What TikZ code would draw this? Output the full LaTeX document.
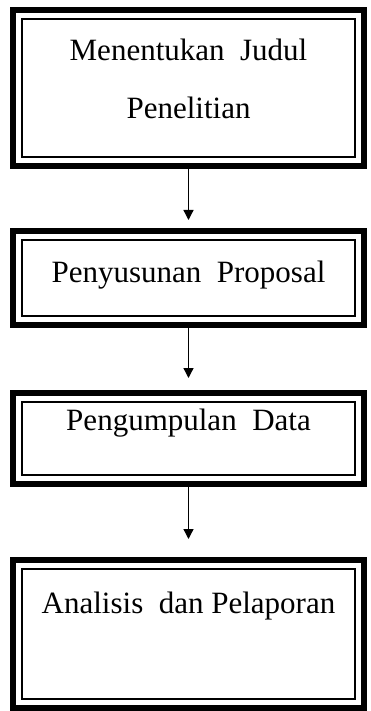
\documentclass[tikz,border=0pt]{standalone}
\usepackage{fontspec}
\setmainfont{Liberation Serif}
\usetikzlibrary{arrows.meta}

\begin{document}
\begin{tikzpicture}[x=1pt, y=1pt,
    stepbox/.style={rectangle, draw, line width=6pt, inner sep=0pt, outer sep=0pt,
        minimum width=351pt, font=\fontsize{31}{37}\selectfont, text height=20pt},
    arr/.style={line width=1.3pt, -{Triangle[length=10pt, width=10pt]}}]
    \useasboundingbox (0,0) rectangle (371,-711);
    \node[stepbox, minimum height=156pt, align=center, text height=62pt, text depth=0pt] (b1) at (188.5,-88) {Menentukan\ \ Judul\\[21pt]Penelitian};
    \node[stepbox, minimum height=94pt, text depth=12pt] (b2) at (188.5,-278) {Penyusunan\ \ Proposal};
    \node[stepbox, minimum height=91pt, text depth=37pt] (b3) at (188.5,-438.5) {Pengumpulan\ \ Data};
    \node[stepbox, minimum height=148pt, text depth=62pt] (b4) at (188.5,-634) {Analisis\ \ dan Pelaporan};
    % inner frame lines
    \foreach \b in {b1,b2,b3,b4} {
        \draw[line width=1.8pt] ([shift={(9,-9)}]\b.north west) rectangle ([shift={(-9,9)}]\b.south east);
    }
    \draw[arr, shorten >=11pt] (b1.south) -- (b2.north);
    \draw[arr, shorten >=15pt] (b2.south) -- (b3.north);
    \draw[arr, shorten >=21pt] (b3.south) -- (b4.north);
\end{tikzpicture}
\end{document}
